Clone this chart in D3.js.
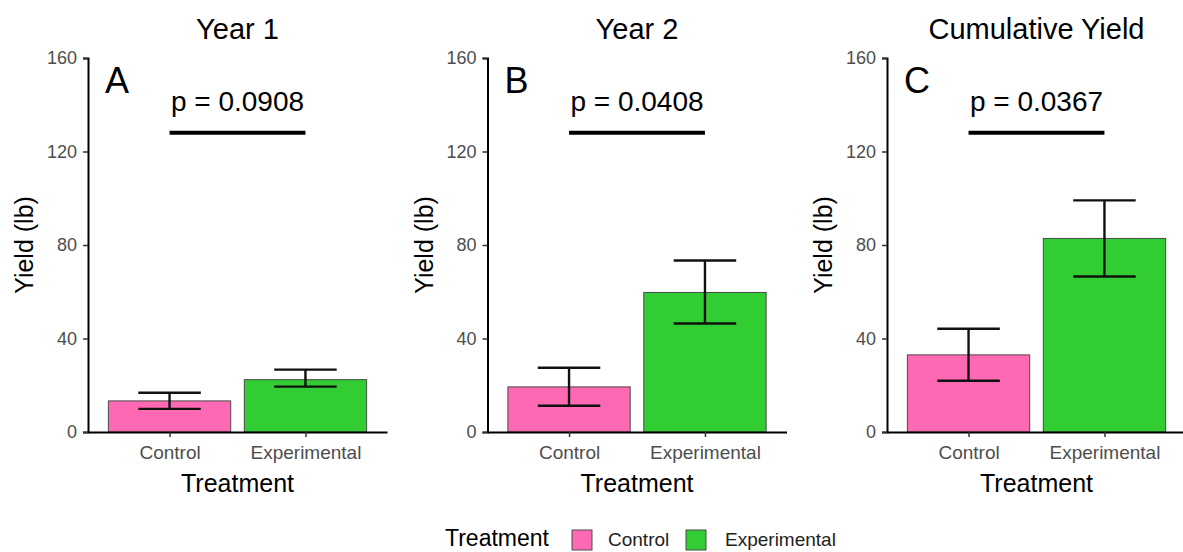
<!DOCTYPE html>
<html>
<head>
<meta charset="utf-8">
<script src="https://cdn.jsdelivr.net/npm/d3@7"></script>
<style>
  body { margin: 0; background: #fff; }
  svg text { font-family: 'Liberation Sans', Arial, sans-serif; }
</style>
</head>
<body>
<div id="chart"></div>
<script>
// data
var categories = ['Control', 'Experimental']
var panelTitles = ['Year 1', 'Year 2', 'Cumulative Yield']
var panelLetters = ['A', 'B', 'C']
var pLabels = ['p = 0.0908', 'p = 0.0408', 'p = 0.0367']
var controlMean = [13.3, 19.3, 33.0]
var controlLow = [9.9, 11.2, 21.9]
var controlHigh = [16.8, 27.5, 44.2]
var experimentalMean = [22.4, 59.7, 82.8]
var experimentalLow = [19.4, 46.4, 66.5]
var experimentalHigh = [26.7, 73.4, 99.1]
var sigBarValue = 128
var yTicks = [0, 40, 80, 120, 160]
var colors = ['#ff69b4', '#32cd32']

var width = 1183
var height = 552
var plotW = 299
var plotTop = 58
var plotBottom = 432

var svg = d3.select('#chart').append('svg')
    .attr('width', width)
    .attr('height', height)

var y = d3.scaleLinear()
    .domain([0, 160])
    .range([plotBottom, plotTop])

var x = d3.scalePoint()
    .domain(categories)
    .range([0, plotW])
    .padding(0.6)

var color = d3.scaleOrdinal()
    .domain(categories)
    .range(colors)

var step = x.step()

panelTitles.forEach(function(title, i) {
    var left = 88 + i * 399.5
    var g = svg.append('g')
        .attr('transform', 'translate(' + left + ',0)')

    var rows = [
        { cat: 'Control', mean: controlMean[i], lo: controlLow[i], hi: controlHigh[i] },
        { cat: 'Experimental', mean: experimentalMean[i], lo: experimentalLow[i], hi: experimentalHigh[i] }
    ]

    // bars
    g.selectAll('rect.bar')
        .data(rows)
        .enter().append('rect')
        .attr('class', 'bar')
        .attr('x', function(d) { return x(d.cat) - step * 0.45 })
        .attr('width', step * 0.9)
        .attr('y', function(d) { return y(d.mean) })
        .attr('height', function(d) { return y(0) - y(d.mean) })
        .attr('fill', function(d) { return color(d.cat) })
        .attr('stroke', '#4a4a4a')
        .attr('stroke-width', 1)

    // error bars
    var eb = g.selectAll('g.err')
        .data(rows)
        .enter().append('g')
        .attr('class', 'err')
        .attr('stroke', '#111')
        .attr('stroke-width', 2.4)

    eb.append('line')
        .attr('x1', function(d) { return x(d.cat) })
        .attr('x2', function(d) { return x(d.cat) })
        .attr('y1', function(d) { return y(d.lo) })
        .attr('y2', function(d) { return y(d.hi) })
    eb.append('line')
        .attr('x1', function(d) { return x(d.cat) - step * 0.23 })
        .attr('x2', function(d) { return x(d.cat) + step * 0.23 })
        .attr('y1', function(d) { return y(d.hi) })
        .attr('y2', function(d) { return y(d.hi) })
    eb.append('line')
        .attr('x1', function(d) { return x(d.cat) - step * 0.23 })
        .attr('x2', function(d) { return x(d.cat) + step * 0.23 })
        .attr('y1', function(d) { return y(d.lo) })
        .attr('y2', function(d) { return y(d.lo) })

    // y axis
    var yAxis = g.append('g')
        .call(d3.axisLeft(y).tickValues(yTicks).tickSize(5).tickPadding(6))
    yAxis.select('.domain').attr('stroke', '#000').attr('stroke-width', 2)
    yAxis.selectAll('.tick line').attr('stroke', '#333').attr('stroke-width', 1.5)
    yAxis.selectAll('.tick text')
        .attr('fill', '#4d4d4d')
        .style('font-size', '18px')
        .style('font-family', "'Liberation Sans', Arial, sans-serif")

    // x axis
    var xAxis = g.append('g')
        .attr('transform', 'translate(0,' + plotBottom + ')')
        .call(d3.axisBottom(x).tickSize(5).tickPadding(9).tickSizeOuter(0))
    xAxis.select('.domain').attr('stroke', '#000').attr('stroke-width', 2)
    xAxis.selectAll('.tick line').attr('stroke', '#333').attr('stroke-width', 1.5)
    xAxis.selectAll('.tick text')
        .attr('fill', '#4d4d4d')
        .style('font-size', '19px')
        .style('font-family', "'Liberation Sans', Arial, sans-serif")

    // titles
    g.append('text')
        .attr('x', plotW / 2)
        .attr('y', 39)
        .attr('text-anchor', 'middle')
        .style('font-size', '29px')
        .text(title)

    g.append('text')
        .attr('x', plotW / 2)
        .attr('y', 492)
        .attr('text-anchor', 'middle')
        .style('font-size', '25px')
        .text('Treatment')

    g.append('text')
        .attr('transform', 'translate(-55,' + (plotTop + plotBottom) / 2 + ') rotate(-90)')
        .attr('text-anchor', 'middle')
        .style('font-size', '25px')
        .text('Yield (lb)')

    // panel letter
    g.append('text')
        .attr('x', 17)
        .attr('y', 93)
        .style('font-size', '36px')
        .text(panelLetters[i])

    // significance bar
    g.append('line')
        .attr('x1', x('Control'))
        .attr('x2', x('Experimental'))
        .attr('y1', y(sigBarValue))
        .attr('y2', y(sigBarValue))
        .attr('stroke', '#000')
        .attr('stroke-width', 4)

    g.append('text')
        .attr('x', (x('Control') + x('Experimental')) / 2)
        .attr('y', y(sigBarValue) - 22)
        .attr('text-anchor', 'middle')
        .style('font-size', '28px')
        .text(pLabels[i])
})

// legend
var legend = svg.append('g')
legend.append('text')
    .attr('x', 445)
    .attr('y', 546)
    .style('font-size', '23px')
    .text('Treatment')

var legendX = [572, 686]
var legendTextX = [608, 725]
categories.forEach(function(c, i) {
    legend.append('rect')
        .attr('x', legendX[i])
        .attr('y', 530)
        .attr('width', 20)
        .attr('height', 20)
        .attr('fill', color(c))
        .attr('stroke', '#4a4a4a')
        .attr('stroke-width', 1)
    legend.append('text')
        .attr('x', legendTextX[i])
        .attr('y', 546)
        .style('font-size', '19px')
        .attr('fill', '#222')
        .text(c)
})
</script>
</body>
</html>
